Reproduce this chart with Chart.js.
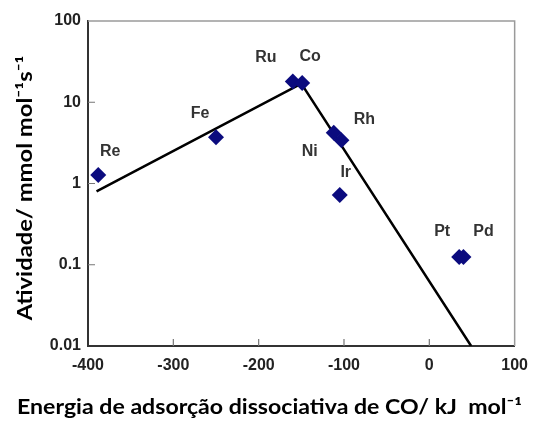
<!DOCTYPE html>
<html>
<head>
<meta charset="utf-8">
<script src="https://cdn.jsdelivr.net/npm/chart.js@4.4.1/dist/chart.umd.min.js"></script>
<style>
  html, body { margin: 0; padding: 0; background: #fff; }
  #wrap { width: 538px; height: 421px; position: relative; }
</style>
</head>
<body>
<div id="wrap"><canvas id="myChart" width="538" height="421"></canvas></div>
<script>
// metais e valores
const metals = ['Re', 'Fe', 'Ru', 'Co', 'Ni', 'Rh', 'Ir', 'Pt', 'Pd']
const energy = [-388, -250, -160, -149, -112, -103, -105, 35, 40]
const activity = [1.27, 3.7, 18, 17.3, 4.2, 3.4, 0.72, 0.125, 0.125]

// linha do "vulcao"
const trendX = [-390, -150, 49]
const trendY = [0.8, 17, 0.01]

const xTicks = [-400, -300, -200, -100, 0, 100]
const yTicks = [0.01, 0.1, 1, 10, 100]

// deslocamento (px) de cada rotulo em relacao ao ponto
const labelOffsets = {
  Re: [12, -23], Fe: [-16, -24], Ru: [-27, -24], Co: [8, -26], Ni: [-24, 19],
  Rh: [23, -21], Ir: [6, -22], Pt: [-17, -25], Pd: [20, -25]
}

const scatterData = energy.map((x, i) => ({ x: x, y: activity[i] }))
const lineData = trendX.map((x, i) => ({ x: x, y: trendY[i] }))

// escreve o texto esticado para ocupar a largura pedida
function fitText(ctx, txt, cx, cy, w) {
  const m = ctx.measureText(txt).width
  ctx.save()
  ctx.translate(cx, cy)
  ctx.scale(w / m, 1)
  ctx.fillText(txt, 0, 0)
  ctx.restore()
}

const extras = {
  id: 'extras',
  afterDraw(chart) {
    const ctx = chart.ctx
    const a = chart.chartArea
    const xs = chart.scales.x
    const ys = chart.scales.y
    ctx.save()
    // moldura de cima e da direita
    ctx.strokeStyle = '#9a9a9a'
    ctx.lineWidth = 1.5
    ctx.beginPath()
    ctx.moveTo(a.left, a.top)
    ctx.lineTo(a.right, a.top)
    ctx.lineTo(a.right, a.bottom)
    ctx.stroke()
    // ticks para dentro
    ctx.strokeStyle = '#777'
    ctx.lineWidth = 1.2
    ctx.beginPath()
    xTicks.forEach(v => {
      const px = xs.getPixelForValue(v)
      if (px > a.left + 2 && px < a.right - 2) {
        ctx.moveTo(px, a.bottom)
        ctx.lineTo(px, a.bottom - 7)
      }
    })
    yTicks.forEach(v => {
      const py = ys.getPixelForValue(v)
      if (py > a.top + 2 && py < a.bottom - 2) {
        ctx.moveTo(a.left, py)
        ctx.lineTo(a.left + 7, py)
      }
    })
    ctx.stroke()
    // rotulos dos metais
    ctx.fillStyle = '#333'
    ctx.font = 'bold 16px "Liberation Sans", Arial, sans-serif'
    ctx.textAlign = 'center'
    ctx.textBaseline = 'middle'
    metals.forEach((m, i) => {
      const off = labelOffsets[m]
      ctx.fillText(m, xs.getPixelForValue(energy[i]) + off[0], ys.getPixelForValue(activity[i]) + off[1])
    })
    // titulos dos eixos
    ctx.fillStyle = '#000'
    ctx.font = 'bold 21px Lato, "Open Sans", sans-serif'
    ctx.textAlign = 'center'
    fitText(ctx, 'Energia de adsorção dissociativa de CO/ kJ  mol⁻¹', 269.5, 407, 505)
    ctx.translate(25, 188)
    ctx.rotate(-Math.PI / 2)
    fitText(ctx, 'Atividade/ mmol mol⁻¹s⁻¹', 0, 0, 265)
    ctx.restore()
  }
}

const ctx = document.getElementById('myChart').getContext('2d')
const myChart = new Chart(ctx, {
  type: 'scatter',
  data: {
    datasets: [
      {
        label: 'metais',
        data: scatterData,
        pointStyle: 'rectRot',
        pointRadius: 8,
        pointHoverRadius: 8,
        backgroundColor: '#0b0b7e',
        borderColor: '#0b0b7e',
        borderWidth: 0,
        order: 1
      },
      {
        label: 'tendencia',
        type: 'line',
        data: lineData,
        borderColor: '#000',
        borderWidth: 2.5,
        pointRadius: 0,
        fill: false,
        order: 2
      }
    ]
  },
  plugins: [extras],
  options: {
    responsive: false,
    animation: false,
    layout: { padding: { top: 21, right: 17, left: 0, bottom: 0 } },
    plugins: {
      legend: { display: false },
      tooltip: { enabled: false }
    },
    scales: {
      x: {
        type: 'linear',
        min: -400,
        max: 100,
        afterFit: s => { s.height = 75 },
        afterBuildTicks: s => { s.ticks = xTicks.map(v => ({ value: v })) },
        grid: { drawOnChartArea: false, drawTicks: false },
        border: { color: '#333', width: 2 },
        ticks: {
          padding: 10,
          color: '#222',
          font: { family: '"Liberation Sans", Arial, sans-serif', size: 16, weight: 'bold' },
          callback: v => String(v)
        }
      },
      y: {
        type: 'logarithmic',
        min: 0.01,
        max: 100,
        afterFit: s => { s.width = 88 },
        afterBuildTicks: s => { s.ticks = yTicks.map(v => ({ value: v })) },
        grid: { drawOnChartArea: false, drawTicks: false },
        border: { color: '#333', width: 2 },
        ticks: {
          padding: 7,
          color: '#222',
          font: { family: '"Liberation Sans", Arial, sans-serif', size: 16, weight: 'bold' },
          callback: v => String(v)
        }
      }
    }
  }
})
</script>
</body>
</html>
